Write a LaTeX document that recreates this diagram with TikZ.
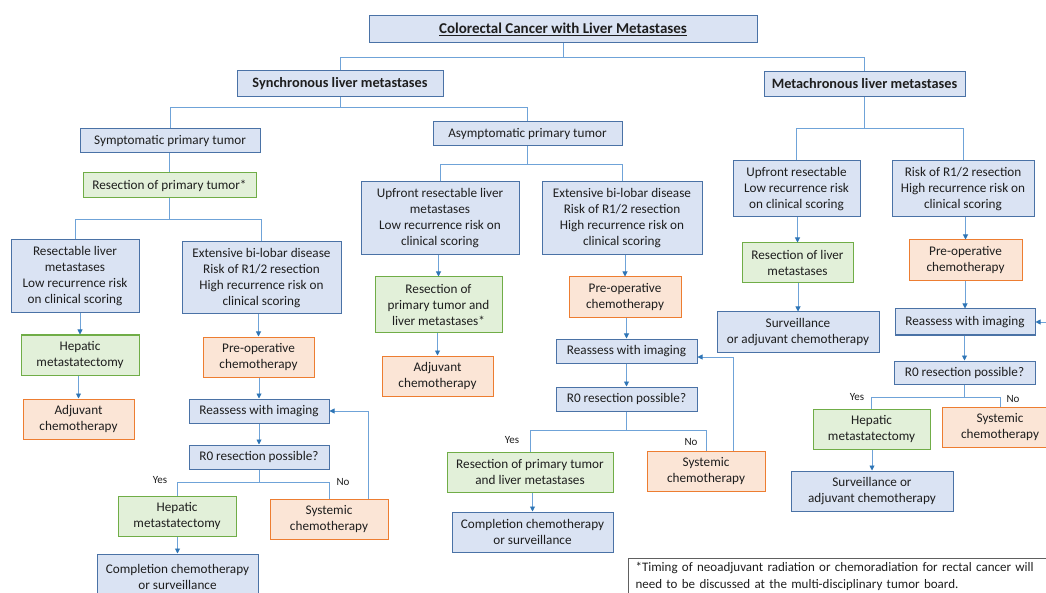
\documentclass[tikz,border=0pt]{standalone}
\usepackage{fontspec}
\setmainfont{Carlito}
\usetikzlibrary{arrows.meta}
\definecolor{bluefill}{HTML}{DAE3F3}
\definecolor{bluedraw}{HTML}{4A72A6}
\definecolor{greenfill}{HTML}{E2F0D9}
\definecolor{greendraw}{HTML}{70AD47}
\definecolor{orangefill}{HTML}{FBE5D6}
\definecolor{orangedraw}{HTML}{ED7D31}
\definecolor{linec}{HTML}{6FA3D8}
\definecolor{arrc}{HTML}{2E75B6}
\definecolor{txt}{HTML}{1E1E1E}

\begin{document}
\begin{tikzpicture}[x=1pt, y=-1pt,
  box/.style={rectangle, draw, line width=1pt, inner sep=0pt, align=center, text=txt, font=\fontsize{13.2}{16}\selectfont},
  stage/.style={box, draw=bluedraw, fill=bluefill},
  surg/.style={box, draw=greendraw, fill=greenfill},
  chemo/.style={box, draw=orangedraw, fill=orangefill},
  head/.style={stage, font=\fontsize{14.3}{16}\selectfont\bfseries},
  wh/.style 2 args={minimum width=#1, minimum height=#2},
  conn/.style={draw=linec, line width=0.9pt},
  arr/.style={conn, -{Triangle[length=5pt, width=5pt, color=arrc]}},
  yn/.style={inner sep=0pt, text=txt, font=\fontsize{11}{12}\selectfont}
]
\useasboundingbox (0,0) rectangle (1046,593);

% title and first split
\node[head, wh={388}{27}, font=\fontsize{15}{16}\selectfont\bfseries] (title) at (563,29.5) {\underline{Colorectal Cancer with Liver Metastases}};
\node[head, wh={206}{26}] (sync) at (340,84) {Synchronous liver metastases};
\node[head, wh={201}{25}] (meta) at (864.5,84) {Metachronous liver metastases};

\draw[conn] (title.south) -- (title.south |- 0,57);
\draw[conn] (sync.north) |- (meta.north |- 0,57) -- (meta.north);

% synchronous side
\node[stage, wh={180}{24}] (symp) at (170,141) {Symptomatic primary tumor};
\node[stage, wh={189}{24}] (asym) at (527.5,134) {Asymptomatic primary tumor};

\draw[conn] (sync.south) -- (sync.south |- 0,107);
\draw[conn] (symp.north) |- (asym.north |- 0,107) -- (asym.north);

% symptomatic primary tumor
\node[surg, wh={173}{25}] (res1) at (169.5,185.5) {Resection of primary tumor*};
\draw[conn] (res1.north |- symp.south) -- (res1.north);

\node[stage, wh={128}{73}] (rl1) at (75,276.5) {Resectable liver\\metastases\\Low recurrence risk\\on clinical scoring};
\node[stage, wh={159}{72}] (ext1) at (261.5,278) {Extensive bi-lobar disease\\Risk of R1/2 resection\\High recurrence risk on\\clinical scoring};
\draw[conn] (res1.south) -- (res1.south |- 0,219);
\draw[conn] (rl1.north) |- (ext1.north |- 0,219) -- (ext1.north);

\node[surg, wh={118}{40}] (hep1) at (80,355) {Hepatic\\metastatectomy};
\node[chemo, wh={111}{40}] (adj1) at (78.5,419) {Adjuvant\\chemotherapy};
\node[chemo, wh={111}{40}] (pre1) at (258.5,357) {Pre-operative\\chemotherapy};
\node[stage, wh={140}{24}] (reas1) at (259,411) {Reassess with imaging};
\node[stage, wh={140}{24}] (r01) at (259,457) {R0 resection possible?};
\node[surg, wh={118}{40}] (hep1b) at (177,516) {Hepatic\\metastatectomy};
\node[chemo, wh={118}{40}] (sys1) at (329,519) {Systemic\\chemotherapy};
\node[stage, wh={161}{46}] (comp1) at (177.5,577) {Completion chemotherapy\\or surveillance};

\draw[conn] (r01.south) -- (r01.south |- 0,482);
\draw[conn] (hep1b.north) |- (sys1.north |- 0,482) -- (sys1.north);
\node[yn] (yes1) at (160,480) {Yes};
\node[yn] (no1) at (343,482) {No};
\draw[arr] ([xshift=39]sys1.north) |- (reas1.east);

% asymptomatic primary tumor
\node[stage, wh={158}{73}] (up2) at (440,218.5) {Upfront resectable liver\\metastases\\Low recurrence risk on\\clinical scoring};
\node[stage, wh={160}{73}] (ext2) at (622,218.5) {Extensive bi-lobar disease\\Risk of R1/2 resection\\High recurrence risk on\\clinical scoring};
\draw[conn] (asym.south) -- (asym.south |- 0,164);
\draw[conn] (up2.north) |- (ext2.north |- 0,164) -- (ext2.north);

\node[surg, wh={127}{56}] (res2) at (438.5,305) {Resection of\\primary tumor and\\liver metastases*};
\node[chemo, wh={111}{40}] (adj2) at (437.5,376) {Adjuvant\\chemotherapy};
\node[chemo, wh={112}{41}] (pre2) at (625,297.5) {Pre-operative\\chemotherapy};
\node[stage, wh={141}{24}] (reas2) at (626.5,351) {Reassess with imaging};
\node[stage, wh={141}{24}] (r02) at (626.5,399) {R0 resection possible?};
\node[surg, wh={166}{40}] (res2b) at (530,472) {Resection of primary tumor\\and liver metastases};
\node[chemo, wh={118}{40}] (sys2) at (706,471) {Systemic\\chemotherapy};
\node[stage, wh={161}{40}] (comp2) at (532.5,532) {Completion chemotherapy\\or surveillance};

\draw[conn] (r02.south) -- (r02.south |- 0,430);
\draw[conn] (res2b.north) |- (sys2.north |- 0,430) -- (sys2.north);
\node[yn] (yes2) at (512,440) {Yes};
\node[yn] (no2) at (691,442) {No};
\draw[arr] ([xshift=27]sys2.north) |- ([yshift=-6]reas2.east);

% metachronous side
\node[stage, wh={127}{56}] (up3) at (796.5,189) {Upfront resectable\\Low recurrence risk\\on clinical scoring};
\node[stage, wh={142}{56}] (risk3) at (963,189) {Risk of R1/2 resection\\High recurrence risk on\\clinical scoring};
\draw[conn] (meta.south) -- (meta.south |- 0,128);
\draw[conn] (up3.north) |- (risk3.north |- 0,128) -- (risk3.north);

\node[surg, wh={111}{40}] (res3) at (797.5,263) {Resection of liver\\metastases};
\node[stage, wh={162}{40}] (surv3) at (798,332) {Surveillance\\or adjuvant chemotherapy};
\node[chemo, wh={113}{41}] (pre3) at (965.5,260.5) {Pre-operative\\chemotherapy};
\node[stage, wh={140}{26}] (reas3) at (965,322) {Reassess with imaging};
\node[stage, wh={141}{23}] (r03) at (964.5,372.5) {R0 resection possible?};
\node[surg, wh={117}{40}] (hep3) at (871.5,429) {Hepatic\\metastatectomy};
\node[chemo, wh={116}{40}] (sys3) at (1000,427) {Systemic\\chemotherapy};
\node[stage, wh={162}{40}] (surv3b) at (872,491) {Surveillance or\\adjuvant chemotherapy};

\draw[conn] (r03.south) -- (r03.south |- 0,397);
\draw[conn] (hep3.north) |- (sys3.north |- 0,397) -- (sys3.north);
\node[yn] (yes3) at (857,397) {Yes};
\node[yn] (no3) at (1013,399) {No};
\draw[arr] ([xshift=52]sys3.north) |- (reas3.east);

% straight arrows
\foreach \a/\b in {rl1/hep1, hep1/adj1, ext1/pre1, pre1/reas1, reas1/r01, hep1b/comp1,
                   up2/res2, res2/adj2, ext2/pre2, pre2/reas2, reas2/r02, res2b/comp2,
                   up3/res3, res3/surv3, risk3/pre3, pre3/reas3, reas3/r03, hep3/surv3b} {
  \draw[arr] (\b.north |- \a.south) -- (\b.north);
}

% footnote
\node[draw=gray!75!black, line width=1.1pt, fill=white, anchor=north west, align=left,
      text width=436, inner xsep=7pt, inner ysep=4pt, text=txt, font=\fontsize{13}{16.5}\selectfont] (note) at (628,558)
  {*Timing of neoadjuvant radiation or chemoradiation for rectal cancer will\\need to be discussed at the multi-disciplinary tumor board.};
\end{tikzpicture}
\end{document}
